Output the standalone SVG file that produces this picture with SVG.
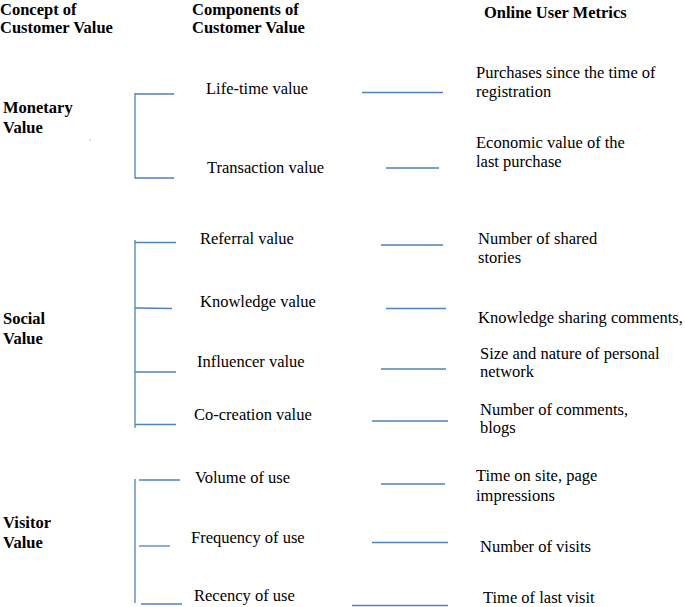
<svg xmlns="http://www.w3.org/2000/svg" width="685" height="607" viewBox="0 0 685 607">
<style>
text{font-family:"Liberation Serif","Times New Roman",serif;font-size:16.5px;fill:#000}
.h{font-weight:bold}
.c line{stroke:#4f81bd;stroke-width:1.3;fill:none}
</style>
<rect width="685" height="607" fill="#fff"/>
<g id="headers">
<text class="h" x="0" y="15">Concept of</text>
<text class="h" x="0" y="33">Customer Value</text>
<text class="h" x="192" y="15">Components of</text>
<text class="h" x="192" y="33">Customer Value</text>
<text class="h" x="484" y="18">Online User Metrics</text>
</g>
<g id="concept-monetary"><text class="h" x="3" y="113">Monetary</text><text class="h" x="3" y="133">Value</text></g>
<g id="concept-social"><text class="h" x="3" y="324">Social</text><text class="h" x="3" y="344">Value</text></g>
<g id="concept-visitor"><text class="h" x="3" y="528">Visitor</text><text class="h" x="3" y="548">Value</text></g>
<rect x="89.5" y="139.5" width="1" height="1" fill="#777"/>
<g id="comp-lifetime"><text x="206" y="94">Life-time value</text></g>
<g id="comp-transaction"><text x="207" y="173">Transaction value</text></g>
<g id="comp-referral"><text x="200" y="244">Referral value</text></g>
<g id="comp-knowledge"><text x="200" y="307">Knowledge value</text></g>
<g id="comp-influencer"><text x="197" y="367">Influencer value</text></g>
<g id="comp-cocreation"><text x="194" y="420">Co-creation value</text></g>
<g id="comp-volume"><text x="195" y="483">Volume of use</text></g>
<g id="comp-frequency"><text x="191" y="543">Frequency of use</text></g>
<g id="comp-recency"><text x="194" y="601">Recency of use</text></g>
<g id="metric-purchases"><text x="476" y="78">Purchases since the time of</text><text x="476" y="97">registration</text></g>
<g id="metric-economic"><text x="476" y="148">Economic value of the</text><text x="476" y="167">last purchase</text></g>
<g id="metric-shared"><text x="478" y="244">Number of shared</text><text x="478" y="263">stories</text></g>
<g id="metric-knowledge"><text x="478" y="323">Knowledge sharing comments,</text></g>
<g id="metric-network"><text x="480" y="359">Size and nature of personal</text><text x="480" y="377">network</text></g>
<g id="metric-comments"><text x="480" y="415">Number of comments,</text><text x="480" y="433">blogs</text></g>
<g id="metric-time"><text x="476" y="481">Time on site, page</text><text x="476" y="501">impressions</text></g>
<g id="metric-visits"><text x="480" y="552">Number of visits</text></g>
<g id="metric-last"><text x="483" y="603">Time of last visit</text></g>
<g id="connectors" class="c">
<line x1="135" y1="93" x2="135" y2="178.5"/>
<line x1="135" y1="94" x2="174" y2="94"/>
<line x1="135" y1="178" x2="174" y2="178"/>
<line x1="135" y1="240" x2="135" y2="428"/>
<line x1="135" y1="242.5" x2="176" y2="242.5"/>
<line x1="135" y1="308" x2="172" y2="308.5"/>
<line x1="135" y1="372" x2="176" y2="372"/>
<line x1="135" y1="424.5" x2="176" y2="424.5"/>
<line x1="135" y1="479" x2="135" y2="603"/>
<line x1="139" y1="480" x2="180" y2="480"/>
<line x1="139" y1="546" x2="170" y2="546"/>
<line x1="141" y1="604" x2="182" y2="604"/>
<line x1="362" y1="92.5" x2="443" y2="92.5"/>
<line x1="386" y1="168" x2="439" y2="168"/>
<line x1="381" y1="245" x2="443" y2="245"/>
<line x1="386" y1="308.5" x2="446" y2="308.5"/>
<line x1="381" y1="369" x2="446" y2="369"/>
<line x1="372" y1="421" x2="448" y2="421"/>
<line x1="381" y1="484" x2="445" y2="484"/>
<line x1="372" y1="542.5" x2="448" y2="542.5"/>
<line x1="352" y1="605.5" x2="448" y2="605.5"/>
</g>
</svg>
